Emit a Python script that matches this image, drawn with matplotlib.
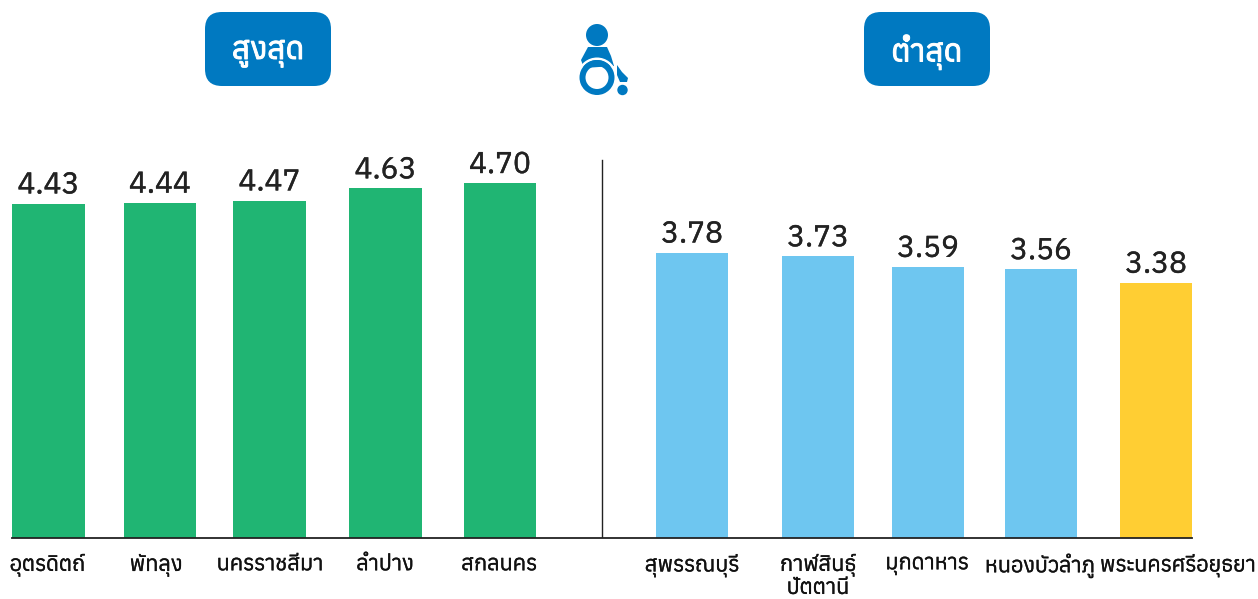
"""
จังหวัดสูงสุด / ต่ำสุด 5 อันดับ (กราฟแท่ง)
"""

import matplotlib
matplotlib.use('Agg')
import matplotlib.pyplot as plt
import matplotlib.patheffects as pe
from matplotlib.patches import Circle, FancyBboxPatch, Polygon, Wedge

plt.rcParams['font.family'] = ['Anuphan', 'DejaVu Sans']

# ====== ข้อมูล ======
provinces = ['อุตรดิตถ์', 'พัทลุง', 'นครราชสีมา', 'ลำปาง', 'สกลนคร',
             'สุพรรณบุรี', 'กาฬสินธุ์\nปัตตานี', 'มุกดาหาร', 'หนองบัวลำภู', 'พระนครศรีอยุธยา']
values = [4.43, 4.44, 4.47, 4.63, 4.70, 3.78, 3.73, 3.59, 3.56, 3.38]
headers = ['สูงสุด', 'ต่ำสุด']

# ตำแหน่งแท่ง/ป้าย (พิกเซลของภาพ) และสี
bar_x = [48.5, 160, 269.5, 385.5, 500, 692, 818, 928, 1041, 1156]
label_x = [47.5, 156, 270, 385, 499, 692, 818, 927, 1040, 1178]
bar_width = 72.5
colors = ['#20B573'] * 5 + ['#6EC6F0'] * 4 + ['#FFCE33']
BLUE = '#0079C1'

W, H = 1258, 599
BASE_Y = 538
PX_PER_UNIT = 75.5

fig = plt.figure(figsize=(W / 100, H / 100), dpi=100)

# ====== กราฟแท่ง ======
ax = fig.add_axes([0, (H - BASE_Y) / H, 1, BASE_Y / H])
ax.set_xlim(0, W)
ax.set_ylim(0, BASE_Y / PX_PER_UNIT)
bars = ax.bar(bar_x, values, width=bar_width, color=colors, linewidth=0)
val_labels = ax.bar_label(bars, labels=[f'{v:.2f}' for v in values], padding=3,
                          fontsize=21.5, color='#222222')
for t in val_labels:
    t.set_path_effects([pe.withStroke(linewidth=0.3, foreground='#222222')])

for side in ['top', 'left', 'right']:
    ax.spines[side].set_visible(False)
ax.spines['bottom'].set_bounds(12, 1192)
ax.spines['bottom'].set_linewidth(1.3)
ax.spines['bottom'].set_color('#222222')
ax.set_yticks([])
ax.set_xticks(label_x, provinces, fontsize=15.6, color='#111111', linespacing=1.0)
ax.tick_params(axis='x', length=0, pad=11)
for t in ax.get_xticklabels():
    t.set_path_effects([pe.withStroke(linewidth=0.2, foreground='#111111')])
ax.patch.set_alpha(0)

# เส้นแบ่งกลาง
ax.plot([602, 602], [0, (BASE_Y - 160) / PX_PER_UNIT], color='#222222', lw=1.0)

# ====== หัวข้อ + ไอคอน (พิกัดพิกเซล) ======
top = fig.add_axes([0, 0, 1, 1], zorder=3)
top.set_xlim(0, W)
top.set_ylim(H, 0)
top.axis('off')

for x0, label in zip([205, 864], headers):
    top.add_patch(FancyBboxPatch((x0 + 17, 29), 126 - 34, 74 - 34,
                                 boxstyle='round,pad=17,rounding_size=17',
                                 facecolor=BLUE, edgecolor='none'))
    t = top.text(x0 + 63, 52, label, ha='center', va='center', color='white',
                 fontsize=22.5)
    t.set_path_effects([pe.withStroke(linewidth=0.7, foreground='white')])

# ไอคอนรถเข็น
top.add_patch(Circle((597, 35), 11, color=BLUE, lw=0))
top.add_patch(Polygon([(588, 47), (607, 47), (611, 56), (614, 66), (584, 68),
                       (581, 60)], color=BLUE, lw=0))
top.add_patch(Wedge((597, 77.5), 20, 195, 345, width=2.5, color='white', lw=0))
top.add_patch(Wedge((597, 77.5), 17.5, 0, 360, width=6, color=BLUE, lw=0))
top.add_patch(Polygon([(617, 65), (622, 72), (628, 78), (627, 82), (620, 82), (617, 75)],
                      color=BLUE, lw=0))
top.add_patch(Circle((622.5, 90), 5.2, color=BLUE, lw=0))

fig.savefig('out.png', dpi=100)
